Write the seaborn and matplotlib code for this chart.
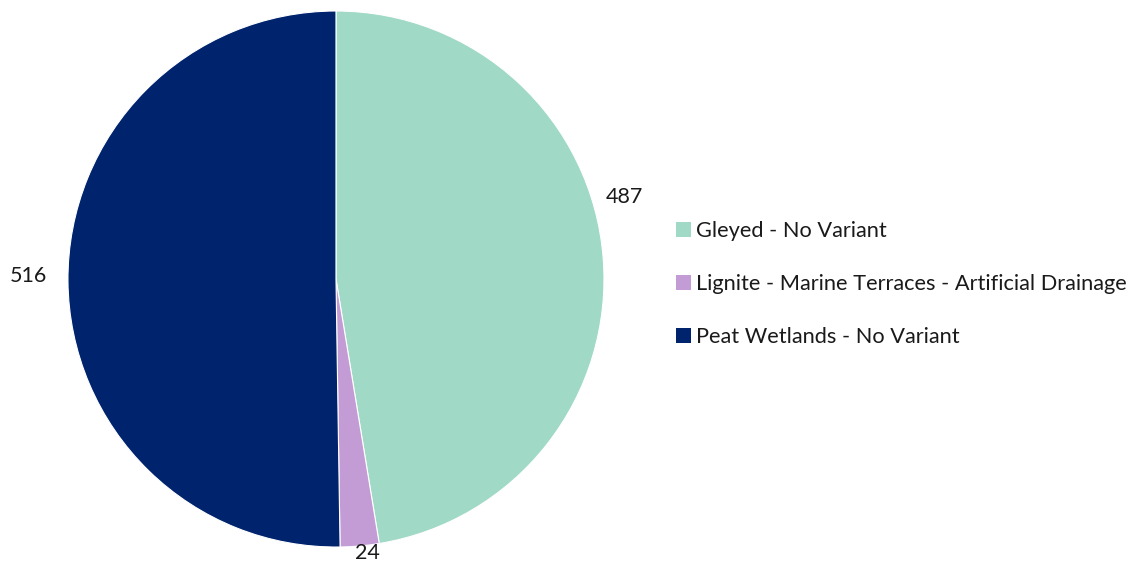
import matplotlib
matplotlib.use("Agg")
import matplotlib.pyplot as plt
from matplotlib.patches import Patch
import seaborn as sns

categories = ["Gleyed - No Variant",
              "Lignite - Marine Terraces - Artificial Drainage",
              "Peat Wetlands - No Variant"]
values = [487, 24, 516]
colors = ["#A0D9C5", "#C39BD5", "#00236E"]
# label anchor points (radius units) chosen for legibility around the pie
label_pos = [(1.075, 0.306), (0.116, -1.022), (-1.149, 0.011)]

sns.set_theme(style="white")
plt.rcParams["font.family"] = ["Lato", "DejaVu Sans"]

fig = plt.figure(figsize=(11.42, 5.64), dpi=100)
ax = fig.add_axes([0.0595, 0.0301, 0.4694, 0.9504])
wedges, _ = ax.pie(values, colors=colors, startangle=90, counterclock=False,
                   radius=1.0, wedgeprops=dict(linewidth=0.8, edgecolor="white"))
ax.set_xlim(-1, 1)
ax.set_ylim(-1, 1)
ax.set_aspect("equal")
ax.axis("off")

for v, (x, y) in zip(values, label_pos):
    ax.text(x, y, f"{v}", ha="center", va="center", fontsize=15.5, color="#1a1a1a",
            clip_on=False)

handles = [Patch(facecolor=c, edgecolor="none") for c in colors]
leg = fig.legend(handles, categories, loc="center left",
                 bbox_to_anchor=(0.5845, 0.496), frameon=False, fontsize=15.7,
                 handlelength=0.68, handleheight=0.68, handletextpad=0.22,
                 labelspacing=1.52, borderaxespad=0)
for t in leg.get_texts():
    t.set_color("#1a1a1a")

fig.savefig("out.png", dpi=100, facecolor="white")
